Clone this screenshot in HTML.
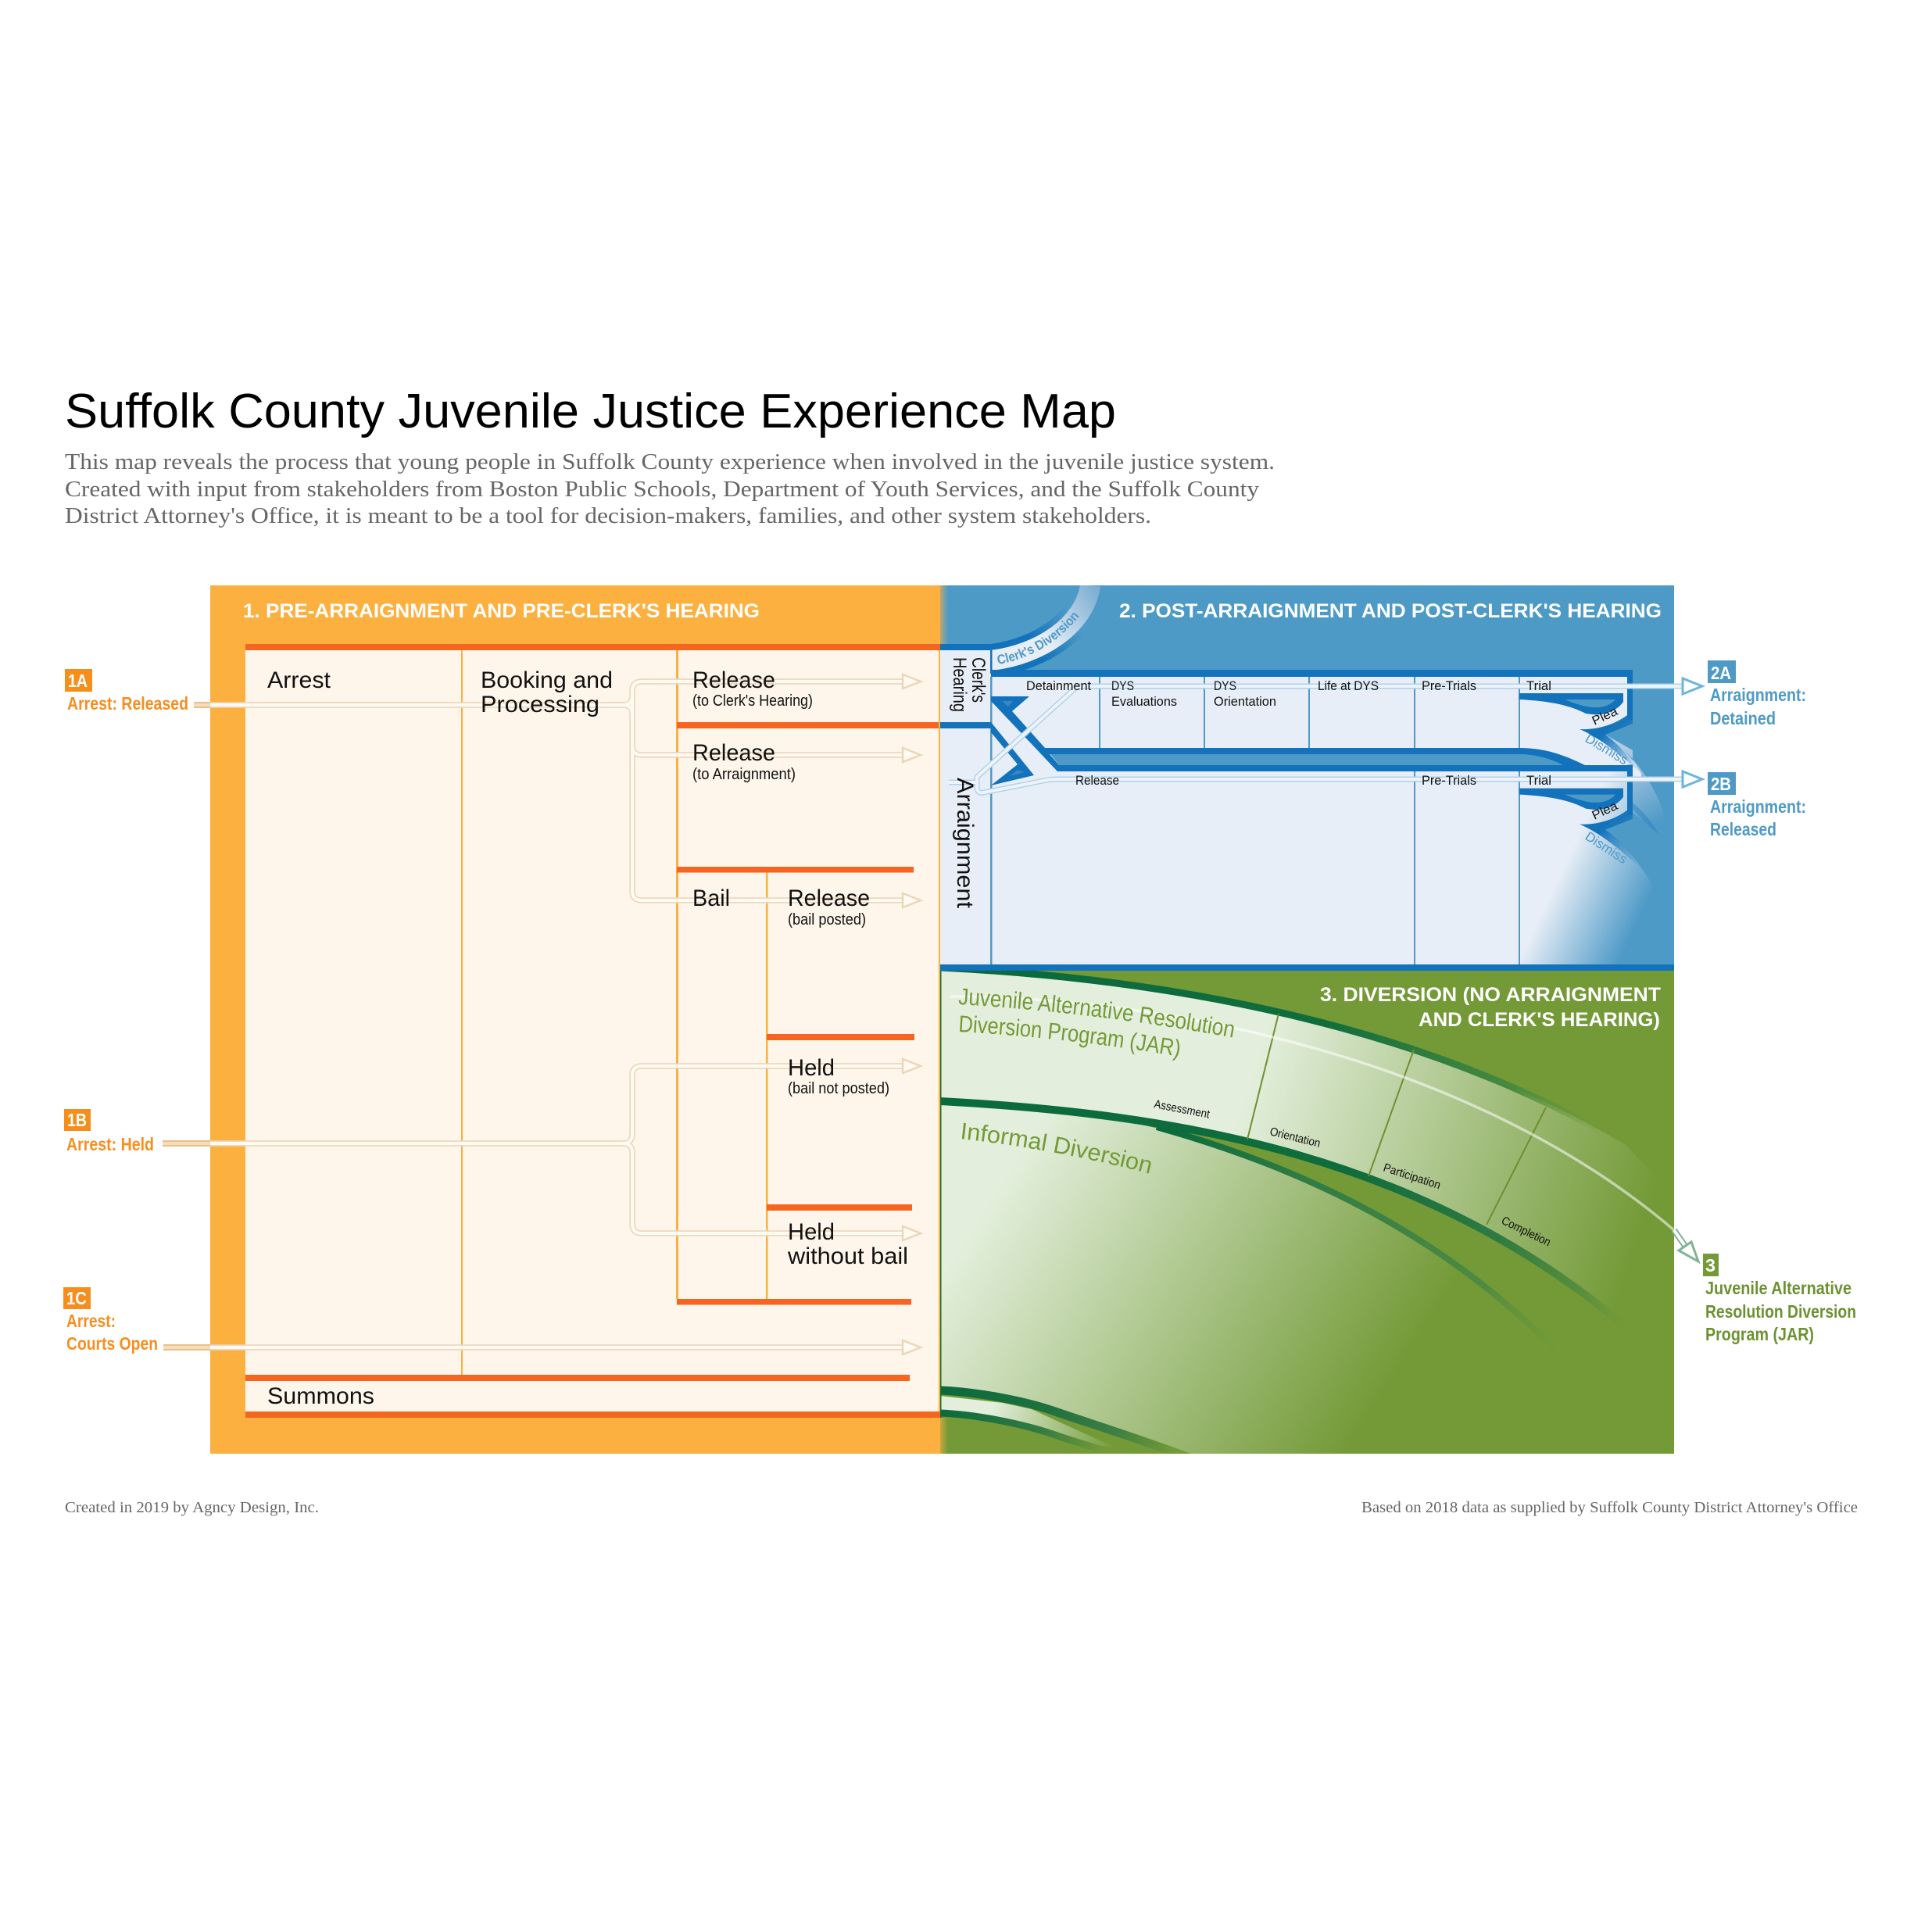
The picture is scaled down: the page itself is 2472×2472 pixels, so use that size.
<!DOCTYPE html>
<html><head><meta charset="utf-8"><title>Suffolk County Juvenile Justice Experience Map</title>
<style>
html,body{margin:0;padding:0;background:#fff;width:2472px;height:2472px;overflow:hidden}
svg{position:absolute;left:0;top:0;display:block}
text{font-family:"Liberation Sans",sans-serif;fill:#111}
.s{font-family:"Liberation Serif",serif;fill:#666}
.big{font-size:30px}.sm{font-size:20px}.xs{font-size:17px}
.h{font-weight:bold;font-size:25px;fill:#fff}
.b{font-weight:bold;font-size:23px;fill:#fff}
.o{font-weight:bold;font-size:23px;fill:#f68e1e}
.bl{font-weight:bold;font-size:23px;fill:#4e9ac7}
.g{font-weight:bold;font-size:23px;fill:#6b9230}
.gl{font-size:30px;fill:#739a37}
.m{font-size:15px}
</style></head><body>
<svg width="2472" height="2472" viewBox="0 0 2472 2472" xmlns="http://www.w3.org/2000/svg">
<defs>
<clipPath id="gclip"><rect x="1203" y="1242" width="939" height="618"/></clipPath>
<clipPath id="bclip"><rect x="1203" y="749" width="939" height="485"/></clipPath>
<linearGradient id="oFade" x1="0" x2="1" y1="0" y2="0"><stop offset="0" stop-color="#fbb040"/><stop offset="1" stop-color="#fbb040" stop-opacity="0"/></linearGradient>
<linearGradient id="jar" gradientUnits="userSpaceOnUse" x1="1600" y1="1380" x2="2110" y2="1550"><stop offset="0" stop-color="#e3efdc"/><stop offset="1" stop-color="#739a37"/></linearGradient>
<linearGradient id="inf" gradientUnits="userSpaceOnUse" x1="1290" y1="1500" x2="1760" y2="1800"><stop offset="0" stop-color="#e3efdc"/><stop offset="1" stop-color="#739a37"/></linearGradient>
<linearGradient id="band1" gradientUnits="userSpaceOnUse" x1="1203" y1="1240" x2="2060" y2="1450"><stop offset="0" stop-color="#0b6a3d"/><stop offset=".55" stop-color="#0f6c3d"/><stop offset=".85" stop-color="#4a8a3f"/><stop offset="1" stop-color="#739a37" stop-opacity="0"/></linearGradient>
<linearGradient id="band2" gradientUnits="userSpaceOnUse" x1="1203" y1="1409" x2="2090" y2="1710"><stop offset="0" stop-color="#0b6a3d"/><stop offset=".55" stop-color="#0f6c3d"/><stop offset=".78" stop-color="#2f7a42"/><stop offset=".92" stop-color="#5a8f3c"/><stop offset="1" stop-color="#739a37" stop-opacity="0"/></linearGradient>
<linearGradient id="band3" gradientUnits="userSpaceOnUse" x1="1490" y1="1446" x2="2012" y2="1748"><stop offset="0" stop-color="#0b6a3d"/><stop offset=".3" stop-color="#2f7c43"/><stop offset=".75" stop-color="#4f8a42"/><stop offset="1" stop-color="#739a37" stop-opacity="0"/></linearGradient>
<linearGradient id="band4" gradientUnits="userSpaceOnUse" x1="1203" y1="1779" x2="1500" y2="1860"><stop offset="0" stop-color="#0b6a3d"/><stop offset=".45" stop-color="#1f7040"/><stop offset=".75" stop-color="#3f7f42"/><stop offset="1" stop-color="#739a37"/></linearGradient>
<linearGradient id="band5" gradientUnits="userSpaceOnUse" x1="1203" y1="1808" x2="1410" y2="1855"><stop offset="0" stop-color="#0b6a3d"/><stop offset=".6" stop-color="#327a42"/><stop offset="1" stop-color="#739a37"/></linearGradient>
<linearGradient id="strip" gradientUnits="userSpaceOnUse" x1="1270" y1="1795" x2="1430" y2="1850"><stop offset="0" stop-color="#e3efdc"/><stop offset="1" stop-color="#739a37"/></linearGradient>
<linearGradient id="clerkW" gradientUnits="userSpaceOnUse" x1="1268" y1="845" x2="1395" y2="749"><stop offset="0" stop-color="#e8eef7"/><stop offset=".45" stop-color="#e8eef7"/><stop offset="1" stop-color="#7fb0d3"/></linearGradient>
<linearGradient id="clerkD" gradientUnits="userSpaceOnUse" x1="1268" y1="845" x2="1385" y2="770"><stop offset="0" stop-color="#1272bb"/><stop offset=".4" stop-color="#1272bb"/><stop offset=".85" stop-color="#4e9ac7"/></linearGradient>
<linearGradient id="sw1" gradientUnits="userSpaceOnUse" x1="2060" y1="950" x2="2125" y2="1050"><stop offset="0" stop-color="#b9d2e6"/><stop offset=".4" stop-color="#9bc0dc"/><stop offset="1" stop-color="#4e9ac7"/></linearGradient>
<linearGradient id="sw2" gradientUnits="userSpaceOnUse" x1="1990" y1="1130" x2="2095" y2="1180"><stop offset="0" stop-color="#e8eef7"/><stop offset="1" stop-color="#4e9ac7"/></linearGradient>
<linearGradient id="dk" gradientUnits="userSpaceOnUse" x1="2050" y1="940" x2="2100" y2="990"><stop offset="0" stop-color="#1272bb"/><stop offset="1" stop-color="#1272bb" stop-opacity="0"/></linearGradient>
<g id="trial">
<path fill="#1272bb" d="M1944 887H2077V898C2070 908 2055 916 2037 914L2029 913C2010 903 1985 897 1944 895Z"/>
<path fill="#4e9ac7" d="M2002 895H2067C2060 903 2050 906 2037 905C2025 904 2012 899 2002 895Z"/>
<path fill="url(#dk)" d="M2082 915L2089 920V926L2054 940C2075 955 2090 975 2100 990C2080 972 2050 945 2021 933C2042 934 2065 928 2082 915Z"/>
<rect x="2082" y="857" width="7" height="64" fill="#1272bb"/>
</g>
</defs>

<!-- header -->
<text x="83" y="547" font-size="62" textLength="1345" lengthAdjust="spacingAndGlyphs" style="fill:#000">Suffolk County Juvenile Justice Experience Map</text>
<text class="s" x="83" y="600" font-size="29" textLength="1548" lengthAdjust="spacingAndGlyphs">This map reveals the process that young people in Suffolk County experience when involved in the juvenile justice system.</text>
<text class="s" x="83" y="635" font-size="29" textLength="1528" lengthAdjust="spacingAndGlyphs">Created with input from stakeholders from Boston Public Schools, Department of Youth Services, and the Suffolk County</text>
<text class="s" x="83" y="669" font-size="29" textLength="1390" lengthAdjust="spacingAndGlyphs">District Attorney's Office, it is meant to be a tool for decision-makers, families, and other system stakeholders.</text>

<!-- orange panel -->
<rect x="269" y="749" width="934" height="1111" fill="#fbb040"/>
<rect x="314" y="832" width="889" height="974" fill="#fef6eb"/>

<!-- blue panel -->
<rect x="1203" y="749" width="939" height="485" fill="#4e9ac7"/>
<!-- green panel -->
<rect x="1203" y="1242" width="939" height="618" fill="#739a37"/>

<!-- green: fills & bands -->
<g clip-path="url(#gclip)">
<path fill="url(#jar)" d="M1203 1238C1490 1252 1820 1310 2080 1465L2142 1530L2100 1715C1830 1475 1500 1425 1203 1409Z"/>
<path fill="url(#inf)" d="M1203 1409L1270 1413L1333 1419L1431 1432L1490 1446C1650 1490 1860 1575 2030 1770L2100 1860H1517L1433 1832L1350 1806L1283 1789L1203 1779Z"/>
<path fill="url(#strip)" d="M1203 1786L1283 1795L1320 1803L1350 1817L1385 1833L1430 1853L1397 1848L1350 1832L1283 1815L1203 1804Z"/>
<g fill="none">
<path stroke="url(#band3)" stroke-width="8" d="M1480 1442C1650 1490 1860 1575 2030 1770"/>
<path stroke="url(#band2)" stroke-width="10" d="M1203 1409C1500 1425 1830 1475 2100 1715"/>
<path stroke="url(#band1)" stroke-width="9" d="M1203 1238C1490 1252 1820 1310 2080 1465"/>
<path stroke="url(#band4)" stroke-width="11" d="M1203 1779C1250 1781 1310 1792 1350 1806S1450 1838 1530 1868"/>
<path stroke="url(#band5)" stroke-width="9" d="M1203 1808C1250 1810 1310 1822 1350 1836S1405 1852 1440 1866"/>
</g>
<g stroke="#6f8f2f" stroke-width="2" fill="none">
<path d="M1636 1297L1596 1458"/><path d="M1809 1343L1751 1505"/><path d="M1978 1417L1902 1567"/>
</g>
<path fill="none" stroke="#fff" stroke-opacity=".55" stroke-width="3.5" d="M1216 1275C1480 1275 1880 1350 2142 1574"/>
</g>

<!-- blue: clerk's diversion -->
<g clip-path="url(#bclip)">
<path fill="none" stroke="url(#clerkD)" stroke-width="42" d="M1268 845C1330 838 1388 800 1395 749"/>
<path fill="none" stroke="url(#clerkW)" stroke-width="26" d="M1268 845C1330 838 1388 800 1395 749"/>
</g>
<path id="cd" fill="none" d="M1277 850C1320 843 1365 818 1398 765"/>
<text font-size="17" font-weight="bold" style="fill:#4e9ac7"><textPath href="#cd" textLength="124" lengthAdjust="spacingAndGlyphs">Clerk's Diversion</textPath></text>

<!-- blue: upper swath -->
<path fill="url(#sw1)" d="M2054 940C2075 955 2095 975 2110 1000C2125 1025 2132 1045 2135 1075L2089 1040V960Z"/>
<path fill="#1272bb" opacity=".35" d="M2089 1027C2105 1040 2115 1055 2122 1067C2110 1058 2098 1045 2089 1035Z"/>
<!-- blue: upper cells -->
<path fill="#e8eef7" d="M1268 866H2082V916L2054 940C2075 955 2090 972 2100 990V1000H1268Z"/>
<text x="2027" y="948" font-size="17" transform="rotate(31 2027 948)" textLength="60" lengthAdjust="spacingAndGlyphs" style="fill:#4e9ac7">Dismiss</text>
<!-- lane between -->
<path fill="#4e9ac7" d="M1344 965H1944C1980 965 2005 972 2030 990H1364Z"/>
<path fill="#1272bb" d="M1330 957H1944C1980 957 2005 968 2028 979H2000C1985 971 1965 965 1944 965H1340Z"/>
<!-- lower cells -->
<path fill="#e8eef7" d="M1203 932H1268V1000H1360V987H1944V1234H1203Z"/>
<path fill="url(#sw2)" d="M1944 987H2082V1038L2054 1062C2085 1085 2115 1125 2135 1175L2142 1234H1944Z"/>
<rect x="1203" y="832" width="65" height="92" fill="#e8eef7"/>
<text x="2027" y="1073" font-size="17" transform="rotate(33 2027 1073)" textLength="60" lengthAdjust="spacingAndGlyphs" style="fill:#4e9ac7">Dismiss</text>
<!-- column lines -->
<g fill="#4e9ac7">
<rect x="1406" y="866" width="2" height="91"/><rect x="1540" y="866" width="2" height="91"/><rect x="1674" y="866" width="2" height="91"/>
<rect x="1809" y="866" width="2" height="91"/><rect x="1943" y="866" width="2" height="91"/>
<rect x="1809" y="987" width="2" height="247"/><rect x="1943" y="987" width="2" height="247"/>
<rect x="1267" y="866" width="2.5" height="368"/>
</g>
<!-- dark bars -->
<g fill="#1272bb">
<rect x="1203" y="824" width="65" height="8"/><rect x="1203" y="924" width="65" height="8"/>
<rect x="1268" y="857" width="821" height="9"/>
<rect x="1353" y="979" width="736" height="8"/>
<rect x="1203" y="1234" width="939" height="8"/>
<rect x="1267" y="832" width="2.5" height="30"/>
<polygon points="1268,891 1317,891 1295,910 1337,957 1343,965 1355,979 1353,987 1268,897"/>
<polygon points="1268,924 1323,992 1268,1005 1302,978 1268,937"/>
</g>
<polygon fill="#3b86c2" points="1282,897 1296,897 1290,904"/>
<polygon fill="#3b86c2" points="1302,985 1311,988 1292,993"/>
<use href="#trial"/>
<use href="#trial" y="121.6"/>
<text x="2040" y="928" font-size="16" transform="rotate(-25 2040 928)" textLength="34" lengthAdjust="spacingAndGlyphs">Plea</text>
<text x="2040" y="1049" font-size="16" transform="rotate(-25 2040 1049)" textLength="34" lengthAdjust="spacingAndGlyphs">Plea</text>

<!-- fades between panels -->
<rect x="1197" y="749" width="16" height="75" fill="url(#oFade)"/>
<rect x="1197" y="1814" width="16" height="46" fill="url(#oFade)"/>

<!-- orange bars & lines -->
<g fill="#fbb040">
<rect x="590" y="832" width="2" height="927"/><rect x="865" y="832" width="3" height="830"/><rect x="980" y="1116" width="2.5" height="546"/>
<rect x="1201" y="832" width="2" height="974"/>
</g>
<rect x="1203" y="1242" width="1.5" height="572" fill="#1a6b33"/>
<g fill="#f4661f">
<rect x="314" y="824" width="889" height="8"/>
<rect x="866" y="924" width="335" height="8"/>
<rect x="866" y="1109" width="303" height="7.5"/>
<rect x="981" y="1323" width="189" height="8"/>
<rect x="981" y="1541" width="186" height="8"/>
<rect x="866" y="1662" width="300" height="7.5"/>
<rect x="314" y="1759" width="850" height="8"/>
<rect x="314" y="1806" width="889" height="8"/>
</g>

<!-- orange arrows -->
<g fill="none" stroke="#ecd6b8" stroke-width="7.5">
<path d="M248 902H797Q809 902 809 890V884Q809 872 821 872H1156M809 890V1140Q809 1152 821 1152H1156M809 954Q809 966 821 966H1156M797 902Q809 902 809 914"/>
<path d="M208 1463H797Q809 1463 809 1451V1376Q809 1364 821 1364H1156M797 1463Q809 1463 809 1475V1566Q809 1578 821 1578H1156"/>
<path d="M209 1724H1156"/>
</g>
<g fill="none" stroke="#fffaf3" stroke-width="4.2">
<path d="M248 902H797Q809 902 809 890V884Q809 872 821 872H1156M809 890V1140Q809 1152 821 1152H1156M809 954Q809 966 821 966H1156M797 902Q809 902 809 914"/>
<path d="M208 1463H797Q809 1463 809 1451V1376Q809 1364 821 1364H1156M797 1463Q809 1463 809 1475V1566Q809 1578 821 1578H1156"/>
<path d="M209 1724H1156"/>
</g>
<g fill="#f6dcb8">
<rect x="248" y="900" width="21" height="4"/><rect x="208" y="1461" width="61" height="4"/><rect x="209" y="1722" width="60" height="4"/>
</g>
<g fill="#e8c08c">
<rect x="248" y="898" width="21" height="2"/><rect x="248" y="904" width="21" height="2"/>
<rect x="208" y="1459" width="61" height="2"/><rect x="208" y="1465" width="61" height="2"/>
<rect x="209" y="1720" width="60" height="2"/><rect x="209" y="1726" width="60" height="2"/>
</g>
<g fill="#fffaf3" stroke="#ecd6b8" stroke-width="2.5">
<polygon points="1155,863 1178,872 1155,881"/>
<polygon points="1155,957 1178,966 1155,975"/>
<polygon points="1155,1143 1178,1152 1155,1161"/>
<polygon points="1155,1355 1178,1364 1155,1373"/>
<polygon points="1155,1569 1178,1578 1155,1587"/>
<polygon points="1155,1715 1178,1724 1155,1733"/>
</g>

<!-- blue arrows -->
<g fill="none" stroke="#b0d3e7" stroke-width="7">
<path d="M1214 1001H1250M1250 1010V994L1372 884Q1378 878 1386 878H2156"/>
<path d="M1250 1007Q1250 1016 1259 1014L1340 998Q1345 997 1352 997H2156"/>
</g>
<g fill="none" stroke="#eef3f9" stroke-width="4">
<path d="M1214 1001H1250M1250 1010V994L1372 884Q1378 878 1386 878H2156"/>
<path d="M1250 1007Q1250 1016 1259 1014L1340 998Q1345 997 1352 997H2156"/>
</g>
<g fill="#fff" stroke="#6db5da" stroke-width="3">
<polygon points="2153,868 2178,878 2153,888"/>
<polygon points="2153,987 2178,997 2153,1007"/>
</g>
<path d="M2142 1574L2158 1597" stroke="#7fb397" stroke-width="8" fill="none"/>
<path d="M2142 1574L2158 1597" stroke="#fff" stroke-width="4" fill="none"/>
<polygon points="2173,1614 2164,1589 2148,1600" fill="#fff" stroke="#7fb397" stroke-width="3"/>

<!-- section headings -->
<text class="h" x="311" y="790" textLength="661" lengthAdjust="spacingAndGlyphs">1. PRE-ARRAIGNMENT AND PRE-CLERK'S HEARING</text>
<text class="h" x="1432" y="790" textLength="694" lengthAdjust="spacingAndGlyphs">2. POST-ARRAIGNMENT AND POST-CLERK'S HEARING</text>
<text class="h" x="1689" y="1281" textLength="436" lengthAdjust="spacingAndGlyphs">3. DIVERSION (NO ARRAIGNMENT</text>
<text class="h" x="1815" y="1313" textLength="309" lengthAdjust="spacingAndGlyphs">AND CLERK'S HEARING)</text>

<!-- section 1 labels -->
<text class="big" x="342" y="880" textLength="81" lengthAdjust="spacingAndGlyphs">Arrest</text>
<text class="big" x="615" y="880" textLength="169" lengthAdjust="spacingAndGlyphs">Booking and</text>
<text class="big" x="615" y="911" textLength="152" lengthAdjust="spacingAndGlyphs">Processing</text>
<text class="big" x="886" y="880" textLength="106" lengthAdjust="spacingAndGlyphs">Release</text>
<text class="sm" x="886" y="903" textLength="154" lengthAdjust="spacingAndGlyphs">(to Clerk's Hearing)</text>
<text class="big" x="886" y="973" textLength="106" lengthAdjust="spacingAndGlyphs">Release</text>
<text class="sm" x="886" y="997" textLength="132" lengthAdjust="spacingAndGlyphs">(to Arraignment)</text>
<text class="big" x="886" y="1159" textLength="48" lengthAdjust="spacingAndGlyphs">Bail</text>
<text class="big" x="1008" y="1159" textLength="105" lengthAdjust="spacingAndGlyphs">Release</text>
<text class="sm" x="1008" y="1183" textLength="100" lengthAdjust="spacingAndGlyphs">(bail posted)</text>
<text class="big" x="1008" y="1376" textLength="60" lengthAdjust="spacingAndGlyphs">Held</text>
<text class="sm" x="1008" y="1399" textLength="130" lengthAdjust="spacingAndGlyphs">(bail not posted)</text>
<text class="big" x="1008" y="1586" textLength="60" lengthAdjust="spacingAndGlyphs">Held</text>
<text class="big" x="1008" y="1617" textLength="154" lengthAdjust="spacingAndGlyphs">without bail</text>
<text class="big" x="342" y="1796" textLength="137" lengthAdjust="spacingAndGlyphs">Summons</text>

<!-- section 2 labels -->
<text x="1220" y="841" font-size="24" transform="rotate(90 1220 841)" textLength="70" lengthAdjust="spacingAndGlyphs">Hearing</text>
<text x="1244" y="841" font-size="24" transform="rotate(90 1244 841)" textLength="58" lengthAdjust="spacingAndGlyphs">Clerk's</text>
<text x="1225" y="995" font-size="30" transform="rotate(90 1225 995)" textLength="167" lengthAdjust="spacingAndGlyphs">Arraignment</text>
<text class="xs" x="1313" y="883" textLength="83" lengthAdjust="spacingAndGlyphs">Detainment</text>
<text class="xs" x="1422" y="883" textLength="29" lengthAdjust="spacingAndGlyphs">DYS</text>
<text class="xs" x="1422" y="903" textLength="84" lengthAdjust="spacingAndGlyphs">Evaluations</text>
<text class="xs" x="1553" y="883" textLength="29" lengthAdjust="spacingAndGlyphs">DYS</text>
<text class="xs" x="1553" y="903" textLength="80" lengthAdjust="spacingAndGlyphs">Orientation</text>
<text class="xs" x="1686" y="883" textLength="78" lengthAdjust="spacingAndGlyphs">Life at DYS</text>
<text class="xs" x="1819" y="883" textLength="70" lengthAdjust="spacingAndGlyphs">Pre-Trials</text>
<text class="xs" x="1953" y="883" textLength="32" lengthAdjust="spacingAndGlyphs">Trial</text>
<text class="xs" x="1376" y="1004" textLength="56" lengthAdjust="spacingAndGlyphs">Release</text>
<text class="xs" x="1819" y="1004" textLength="70" lengthAdjust="spacingAndGlyphs">Pre-Trials</text>
<text class="xs" x="1953" y="1004" textLength="32" lengthAdjust="spacingAndGlyphs">Trial</text>

<!-- section 3 labels -->
<path id="j1" fill="none" d="M1226 1285Q1400 1295 1585 1329"/>
<path id="j2" fill="none" d="M1226 1320Q1370 1328 1515 1353"/>
<path id="j3" fill="none" d="M1228 1457Q1350 1470 1480 1504"/>
<text class="gl"><textPath href="#j1" textLength="355" lengthAdjust="spacingAndGlyphs">Juvenile Alternative Resolution</textPath></text>
<text class="gl"><textPath href="#j2" textLength="285" lengthAdjust="spacingAndGlyphs">Diversion Program (JAR)</textPath></text>
<text class="gl"><textPath href="#j3" textLength="248" lengthAdjust="spacingAndGlyphs">Informal Diversion</textPath></text>
<text class="m" x="1476" y="1417" transform="rotate(11 1476 1417)" textLength="72" lengthAdjust="spacingAndGlyphs">Assessment</text>
<text class="m" x="1624" y="1452" transform="rotate(14 1624 1452)" textLength="66" lengthAdjust="spacingAndGlyphs">Orientation</text>
<text class="m" x="1769" y="1498" transform="rotate(18 1769 1498)" textLength="76" lengthAdjust="spacingAndGlyphs">Participation</text>
<text class="m" x="1920" y="1565" transform="rotate(26 1920 1565)" textLength="68" lengthAdjust="spacingAndGlyphs">Completion</text>

<!-- left legend -->
<rect x="83" y="856" width="35" height="29" fill="#f68e1e"/>
<text class="b" x="87" y="879" textLength="25" lengthAdjust="spacingAndGlyphs">1A</text>
<text class="o" x="86" y="908" textLength="155" lengthAdjust="spacingAndGlyphs">Arrest: Released</text>
<rect x="82" y="1419" width="34" height="28" fill="#f68e1e"/>
<text class="b" x="86" y="1441" textLength="25" lengthAdjust="spacingAndGlyphs">1B</text>
<text class="o" x="85" y="1472" textLength="112" lengthAdjust="spacingAndGlyphs">Arrest: Held</text>
<rect x="81" y="1647" width="35" height="28" fill="#f68e1e"/>
<text class="b" x="85" y="1669" textLength="26" lengthAdjust="spacingAndGlyphs">1C</text>
<text class="o" x="85" y="1698" textLength="63" lengthAdjust="spacingAndGlyphs">Arrest:</text>
<text class="o" x="85" y="1727" textLength="117" lengthAdjust="spacingAndGlyphs">Courts Open</text>

<!-- right legend -->
<rect x="2185" y="845" width="36" height="29" fill="#4e9ac7"/>
<text class="b" x="2189" y="869" textLength="26" lengthAdjust="spacingAndGlyphs">2A</text>
<text class="bl" x="2188" y="897" textLength="123" lengthAdjust="spacingAndGlyphs">Arraignment:</text>
<text class="bl" x="2188" y="927" textLength="84" lengthAdjust="spacingAndGlyphs">Detained</text>
<rect x="2185" y="988" width="36" height="29" fill="#4e9ac7"/>
<text class="b" x="2189" y="1011" textLength="26" lengthAdjust="spacingAndGlyphs">2B</text>
<text class="bl" x="2188" y="1040" textLength="123" lengthAdjust="spacingAndGlyphs">Arraignment:</text>
<text class="bl" x="2188" y="1069" textLength="85" lengthAdjust="spacingAndGlyphs">Released</text>
<rect x="2179" y="1604" width="20" height="29" fill="#739a37"/>
<text class="b" x="2182" y="1627" textLength="13" lengthAdjust="spacingAndGlyphs">3</text>
<text class="g" x="2182" y="1656" textLength="187" lengthAdjust="spacingAndGlyphs">Juvenile Alternative</text>
<text class="g" x="2182" y="1686" textLength="193" lengthAdjust="spacingAndGlyphs">Resolution Diversion</text>
<text class="g" x="2182" y="1715" textLength="139" lengthAdjust="spacingAndGlyphs">Program (JAR)</text>

<!-- footer -->
<text class="s" x="83" y="1935" font-size="20" textLength="325" lengthAdjust="spacingAndGlyphs">Created in 2019 by Agncy Design, Inc.</text>
<text class="s" x="1742" y="1935" font-size="20" textLength="635" lengthAdjust="spacingAndGlyphs">Based on 2018 data as supplied by Suffolk County District Attorney's Office</text>
</svg>
</body></html>
